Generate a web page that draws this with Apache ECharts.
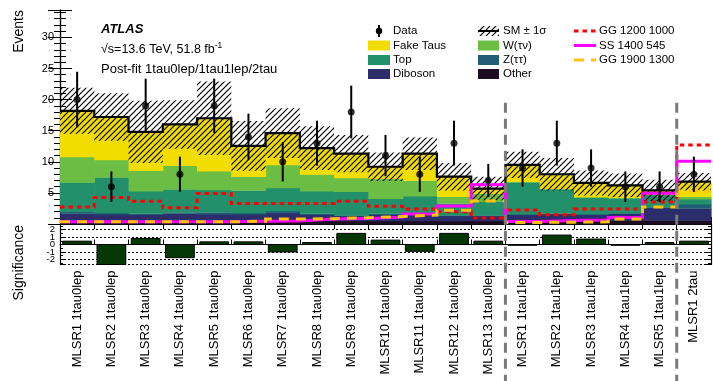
<!DOCTYPE html>
<html>
<head>
<meta charset="utf-8">
<script src="https://cdn.jsdelivr.net/npm/echarts@6/dist/echarts.min.js"></script>
<style>
html,body{margin:0;padding:0;background:#fff;}
#chart{width:713px;height:381px;}
</style>
</head>
<body>
<div id="chart"></div>
<script>
// Signal-region yields: one entry per region, left to right
const categories = [
  'MLSR1 1tau0lep','MLSR2 1tau0lep','MLSR3 1tau0lep','MLSR4 1tau0lep','MLSR5 1tau0lep',
  'MLSR6 1tau0lep','MLSR7 1tau0lep','MLSR8 1tau0lep','MLSR9 1tau0lep','MLSR10 1tau0lep',
  'MLSR11 1tau0lep','MLSR12 1tau0lep','MLSR13 1tau0lep',
  'MLSR1 1tau1lep','MLSR2 1tau1lep','MLSR3 1tau1lep','MLSR4 1tau1lep','MLSR5 1tau1lep',
  'MLSR1 2tau'
];
const dataObs    = [20, 6, 19, 8, 19, 14, 10, 13, 18, 11, 8, 13, 7, 9, 13, 9, 6, 6, 8];
const bkgOther   = [0.5,0.5,0.5,0.5,0.5,0.5,0.5,0.5,0.5,0.5,0.5,0.5,0.5,0.5,0.5,0.55,0.6,0.6,0.6];
const bkgDiboson = [1.2,1.1,1.0,1.2,1.1,1.1,1.3,1.0,0.8,1.0,1.1,0.8,0.8,1.0,1.1,1.0,1.1,2.0,1.9];
const bkgZtautau = [0.3,0.2,0.2,0.2,0.3,0.2,0.3,0.2,0.1,0.2,0.2,0.1,0.1,0.1,0.1,0.1,0.1,0.1,0.7];
const bkgTop     = [4.7,5.7,3.6,3.7,3.6,3.6,3.7,3.6,3.8,2.4,2.7,1.9,2.2,5.1,3.9,2.6,2.35,2.0,0.8];
const bkgWtaunu  = [4.1,2.8,3.3,3.8,3.0,2.2,3.7,2.7,2.2,3.2,2.5,1.1,1.3,0.1,0.1,0.1,0.1,0.1,0.4];
const bkgFake    = [7.4,6.9,6.2,6.6,8.5,4.95,5.1,4.2,3.9,1.9,4.3,3.2,0.8,2.7,2.3,2.25,1.95,0.6,2.4];
const bkgUnc     = [3.7,3.8,5.0,3.9,5.9,4.0,4.0,3.5,3.0,2.3,2.6,2.2,1.9,2.1,2.6,2.0,1.9,1.7,1.4];
const sigGG1200  = [2.75,4.25,3.65,2.6,4.9,3.3,3.3,3.3,3.65,2.85,2.4,1.95,0.95,2.25,1.5,2.4,2.4,3.55,12.7];
const sigSS1400  = [0.35,0.35,0.35,0.35,0.35,0.45,0.5,0.8,0.9,1.1,1.6,2.9,6.3,0.4,0.55,0.65,1.05,4.95,10.1];
const sigGG1900  = [0.35,0.35,0.35,0.35,0.35,0.45,0.8,0.85,1.0,1.2,1.45,2.2,3.7,0.25,0.3,0.35,0.8,2.75,5.3];
const significance = [0.45,-2.9,0.82,-1.78,0.36,0.36,-1.0,0.27,1.5,0.59,-0.92,1.5,0.45,-0.05,1.27,0.73,-0.05,0.27,0.45];
// channel boundaries (bin edges) marked with dashed separators
const channelEdges = [13, 18];

const FONT = 'Liberation Sans, Arial, Helvetica, sans-serif';
const COL = {
  fake: '#f2dd00', w: '#6bbd43', top: '#21906b', z: '#1f5e74',
  dib: '#2c2e6b', other: '#1d0d20', sig: '#063806'
};

// diagonal hatch tile for the background uncertainty band
function hatchPattern() {
  const c = document.createElement('canvas');
  c.width = 6; c.height = 6;
  const g = c.getContext('2d');
  g.strokeStyle = '#000'; g.lineWidth = 1.2;
  g.beginPath();
  g.moveTo(-1, 7); g.lineTo(7, -1);
  g.moveTo(-1, 1); g.lineTo(1, -1);
  g.moveTo(5, 7); g.lineTo(7, 5);
  g.stroke();
  return { image: c, repeat: 'repeat' };
}
const HATCH = hatchPattern();

const nBins = categories.length;
const stackOrder = [
  [bkgOther, COL.other], [bkgDiboson, COL.dib], [bkgZtautau, COL.z],
  [bkgTop, COL.top], [bkgWtaunu, COL.w], [bkgFake, COL.fake]
];
const series = [];
const base = new Array(nBins).fill(0);
stackOrder.forEach(([vals, color]) => {
  const items = vals.map((v, i) => [i, base[i], base[i] + v]);
  vals.forEach((v, i) => { base[i] += v; });
  series.push({
    type: 'custom', xAxisIndex: 0, yAxisIndex: 0, z: 2, silent: true,
    data: items,
    renderItem: (params, api) => {
      const i = api.value(0);
      const a = api.coord([i, api.value(1)]);
      const b = api.coord([i + 1, api.value(2)]);
      return { type: 'rect', shape: { x: a[0], y: b[1], width: b[0] - a[0] + 0.6, height: a[1] - b[1] + 0.4 },
               style: { fill: color } };
    }
  });
});
const total = base.slice();

// SM +- 1 sigma hatched band
series.push({
  type: 'custom', xAxisIndex: 0, yAxisIndex: 0, z: 3, silent: true,
  data: total.map((t, i) => [i, t - bkgUnc[i], t + bkgUnc[i]]),
  renderItem: (params, api) => {
    const i = api.value(0);
    const a = api.coord([i, api.value(1)]);
    const b = api.coord([i + 1, api.value(2)]);
    return { type: 'rect', shape: { x: a[0], y: b[1], width: b[0] - a[0], height: a[1] - b[1] },
             style: { fill: HATCH } };
  }
});

// step-histogram helper: horizontal across each bin, vertical at bin edges
function stepPoints(vals) {
  const pts = vals.map((v, i) => [i, v]);
  pts.push([vals.length, vals[vals.length - 1]]);
  return pts;
}
function stepLine(vals, color, width, type, z) {
  return {
    type: 'line', xAxisIndex: 0, yAxisIndex: 0, step: 'end', z: z, silent: true,
    showSymbol: false, symbol: 'none', clip: true, animation: false,
    data: stepPoints(vals),
    lineStyle: { color: color, width: width, type: type, cap: 'butt', join: 'miter' }
  };
}
series.push(stepLine(total, '#000', 2.2, 'solid', 4));
series.push(stepLine(sigGG1200, '#ff0000', 3, [4.5, 4], 5));
series.push(stepLine(sigSS1400, '#ff00ff', 3, 'solid', 6));
series.push(stepLine(sigGG1900, '#ffc20f', 3, [10, 7], 7));

// data: statistical error bars and markers
series.push({
  type: 'custom', xAxisIndex: 0, yAxisIndex: 0, z: 10, silent: true,
  data: dataObs.map((n, i) => [i + 0.5, n - Math.sqrt(n), n + Math.sqrt(n)]),
  renderItem: (params, api) => {
    const a = api.coord([api.value(0), api.value(1)]);
    const b = api.coord([api.value(0), api.value(2)]);
    return { type: 'line', shape: { x1: a[0], y1: a[1], x2: b[0], y2: b[1] },
             style: { stroke: '#000', lineWidth: 2 } };
  }
});
series.push({
  type: 'scatter', xAxisIndex: 0, yAxisIndex: 0, z: 11, silent: true,
  symbol: 'circle', symbolSize: 7,
  itemStyle: { color: '#000' },
  data: dataObs.map((n, i) => [i + 0.5, n])
});

// channel separators, from the upper panel down through the labels
series.push({
  type: 'custom', xAxisIndex: 0, yAxisIndex: 0, z: 12, silent: true, clip: false,
  data: channelEdges.map(e => [e, 19.5]),
  renderItem: (params, api) => {
    const p = api.coord([api.value(0), api.value(1)]);
    return { type: 'line', shape: { x1: p[0], y1: p[1], x2: p[0], y2: api.getHeight() },
             style: { stroke: '#7a7a7a', lineWidth: 3, lineDash: [10, 6] } };
  }
});

// significance bars in the lower panel
series.push({
  type: 'custom', xAxisIndex: 2, yAxisIndex: 2, z: 5, silent: true,
  data: significance.map((s, i) => [i, s]),
  renderItem: (params, api) => {
    const i = api.value(0);
    const cs = params.coordSys;
    const a = api.coord([i + 0.08, 0]);
    const b = api.coord([i + 0.92, api.value(1)]);
    const yTop = Math.max(cs.y, Math.min(a[1], b[1]));
    const yBot = Math.min(cs.y + cs.height, Math.max(a[1], b[1]));
    return { type: 'rect', shape: { x: a[0], y: yTop, width: b[0] - a[0], height: Math.max(yBot - yTop, 0.8) },
             style: { fill: COL.sig, stroke: '#000', lineWidth: 1 } };
  }
});

const axisBlack = { show: true, lineStyle: { color: '#000', width: 1.2 } };
function binAxis(grid, pos, tickLen) {
  return {
    type: 'value', gridIndex: grid, position: pos, min: 0, max: nBins, interval: 1,
    axisLine: axisBlack, axisLabel: { show: false }, splitLine: { show: false },
    axisTick: { show: true, inside: true, length: tickLen, lineStyle: { color: '#000', width: 1 } }
  };
}

const option = {
  animation: false,
  backgroundColor: '#fff',
  textStyle: { fontFamily: FONT },
  grid: [
    { left: 60, right: 2, top: 10, height: 214 },
    { left: 60, right: 2, top: 224.5, height: 40 }
  ],
  xAxis: [
    binAxis(0, 'bottom', 7),
    binAxis(0, 'top', 5),
    binAxis(1, 'bottom', 5),
    {
      type: 'category', gridIndex: 1, position: 'bottom', data: categories, boundaryGap: true,
      axisLine: { show: false }, axisTick: { show: false }, splitLine: { show: false },
      axisLabel: { rotate: 90, margin: 6, fontSize: 13, color: '#000', fontFamily: FONT, interval: 0 }
    }
  ],
  yAxis: [
    {
      type: 'value', gridIndex: 0, position: 'left', min: 0, max: 34.4, interval: 5,
      axisLine: axisBlack, splitLine: { show: false },
      axisTick: { show: true, inside: true, length: 12, lineStyle: { color: '#000' } },
      minorTick: { show: true, splitNumber: 5, length: 6, lineStyle: { color: '#000' } },
      axisLabel: { fontSize: 11, color: '#000', margin: 6, fontFamily: FONT,
                   showMinLabel: false, showMaxLabel: false,
                   formatter: v => (v > 0 && v % 5 === 0) ? String(v) : '' }
    },
    {
      type: 'value', gridIndex: 0, position: 'right', min: 0, max: 34.4, interval: 5,
      axisLine: axisBlack, splitLine: { show: false }, axisLabel: { show: false },
      axisTick: { show: true, inside: true, length: 12, lineStyle: { color: '#000' } },
      minorTick: { show: true, splitNumber: 5, length: 6, lineStyle: { color: '#000' } }
    },
    {
      type: 'value', gridIndex: 1, position: 'left', min: -2.7, max: 2.7, splitNumber: 5,
      axisLine: axisBlack,
      splitLine: { show: true, lineStyle: { color: '#000', type: [2, 2], width: 1 } },
      axisTick: { show: true, inside: true, length: 6, lineStyle: { color: '#000' } },
      minorTick: { show: true, splitNumber: 2, length: 3, lineStyle: { color: '#000' } },
      axisLabel: { fontSize: 9.5, color: '#000', margin: 5, fontFamily: FONT,
                   showMinLabel: false, showMaxLabel: false,
                   formatter: v => Number.isInteger(v) ? String(v) : '' }
    },
    {
      type: 'value', gridIndex: 1, position: 'right', min: -2.7, max: 2.7, splitNumber: 5,
      axisLine: axisBlack, splitLine: { show: false }, axisLabel: { show: false },
      axisTick: { show: true, inside: true, length: 6, lineStyle: { color: '#000' } },
      minorTick: { show: true, splitNumber: 2, length: 3, lineStyle: { color: '#000' } }
    }
  ],
  series: series,
  graphic: buildGraphics()
};

function buildGraphics() {
  const els = [];
  const txt = (x, y, text, size, extra) => els.push({
    type: 'text', x: x, y: y, z: 50, silent: true,
    style: Object.assign({ text: text, fontSize: size, fontFamily: FONT, fill: '#000',
                           textVerticalAlign: 'middle' }, extra || {})
  });
  // axis titles (rotated, anchored at the top end)
  els.push({ type: 'text', x: 19, y: 10, rotation: Math.PI / 2, z: 50, silent: true,
    style: { text: 'Events', fontSize: 14, fontFamily: FONT, fill: '#000', textAlign: 'right', textVerticalAlign: 'middle' } });
  els.push({ type: 'text', x: 19, y: 225, rotation: Math.PI / 2, z: 50, silent: true,
    style: { text: 'Significance', fontSize: 14, fontFamily: FONT, fill: '#000', textAlign: 'right', textVerticalAlign: 'middle' } });

  // labels in the upper-left corner
  txt(101, 29.5, 'ATLAS', 13, { fontWeight: 'bold', fontStyle: 'italic' });
  els.push({ type: 'text', x: 101, y: 49.5, z: 50, silent: true,
    style: { text: '{a|√s=13.6 TeV, 51.8 fb}{b|-1}', textVerticalAlign: 'middle', fontFamily: FONT,
      rich: { a: { fontSize: 12.5, fontFamily: FONT, fill: '#000', lineHeight: 16 },
              b: { fontSize: 8.5, fontFamily: FONT, fill: '#000', verticalAlign: 'top', lineHeight: 16 } } } });
  txt(101, 69, 'Post-fit 1tau0lep/1tau1lep/2tau', 13);

  // legend, column 1
  const rows = [31, 45.5, 60, 74];
  els.push({ type: 'line', z: 50, silent: true, shape: { x1: 379, y1: 25, x2: 379, y2: 37 }, style: { stroke: '#000', lineWidth: 2 } });
  els.push({ type: 'circle', z: 51, silent: true, shape: { cx: 379, cy: 31, r: 3.2 }, style: { fill: '#000' } });
  txt(393, rows[0], 'Data', 11.5);
  [[COL.fake, 'Fake Taus'], [COL.top, 'Top'], [COL.dib, 'Diboson']].forEach(([c, t], k) => {
    els.push({ type: 'rect', z: 50, silent: true, shape: { x: 368, y: rows[k + 1] - 5, width: 22, height: 10 }, style: { fill: c } });
    txt(393, rows[k + 1], t, 11.5);
  });
  // legend, column 2
  els.push({ type: 'rect', z: 50, silent: true, shape: { x: 478, y: rows[0] - 5, width: 21, height: 10 }, style: { fill: HATCH } });
  els.push({ type: 'line', z: 51, silent: true, shape: { x1: 478, y1: rows[0], x2: 499, y2: rows[0] }, style: { stroke: '#000', lineWidth: 2 } });
  txt(503, rows[0], 'SM ± 1σ', 11.5);
  [[COL.w, 'W(τν)'], [COL.z, 'Z(ττ)'], [COL.other, 'Other']].forEach(([c, t], k) => {
    els.push({ type: 'rect', z: 50, silent: true, shape: { x: 478, y: rows[k + 1] - 5, width: 21, height: 10 }, style: { fill: c } });
    txt(503, rows[k + 1], t, 11.5);
  });
  // legend, column 3 (signal models)
  [['#ff0000', [4.5, 4], 'GG 1200 1000'], ['#ff00ff', null, 'SS 1400 545'], ['#ffc20f', [10, 7], 'GG 1900 1300']]
    .forEach(([c, dash, t], k) => {
      els.push({ type: 'line', z: 50, silent: true, shape: { x1: 574, y1: rows[k], x2: 596, y2: rows[k] },
                 style: { stroke: c, lineWidth: 3, lineDash: dash || null, lineCap: 'butt' } });
      txt(599, rows[k], t, 11.5);
    });
  return els;
}

const chart = echarts.init(document.getElementById('chart'), null, { renderer: 'canvas' });
chart.setOption(option);
</script>
</body>
</html>
